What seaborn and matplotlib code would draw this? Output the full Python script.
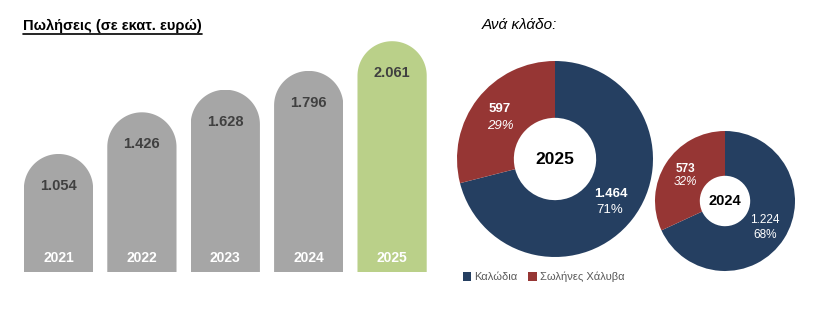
import numpy as np
import pandas as pd
import matplotlib
matplotlib.use("Agg")
import matplotlib.pyplot as plt
from matplotlib.path import Path
from matplotlib.patches import Patch
from matplotlib.lines import Line2D
import seaborn as sns

# ---------------- data ----------------
years = ["2021", "2022", "2023", "2024", "2025"]
sales = [1054, 1426, 1628, 1796, 2061]
sales_labels = ["1.054", "1.426", "1.628", "1.796", "2.061"]

segments = ["Καλώδια", "Σωλήνες Χάλυβα"]
seg_2025 = [1464, 597]
seg_2025_val = ["1.464", "597"]
seg_2025_pct = ["71%", "29%"]
seg_2024 = [1224, 573]
seg_2024_val = ["1.224", "573"]
seg_2024_pct = ["68%", "32%"]

# ---------------- style ----------------
sns.set_theme(style="white")
plt.rcParams["font.family"] = ["Liberation Sans", "DejaVu Sans"]

W, H = 822, 313
fig = plt.figure(figsize=(W / 100, H / 100), dpi=100)
fig.patch.set_facecolor("white")

GRAY = "#A6A6A6"
GREEN = "#BAD089"
BLUE = "#253F61"
RED = "#963634"

def px_axes(left, top, width, height):
    """axes from pixel box measured from top-left"""
    return fig.add_axes([left / W, 1 - (top + height) / H, width / W, height / H])

# ---------------- bar chart ----------------
units_per_px = 8.93
step = 83.4
ax_left = 58.5 - step / 2
ax_w = step * 5
bottom_px = 272
ax_h = 250
ax = px_axes(ax_left, bottom_px - ax_h, ax_w, ax_h)

df = pd.DataFrame({"year": years, "sales": sales})
palette = [GRAY, GRAY, GRAY, GRAY, GREEN]
sns.barplot(data=df, x="year", y="sales", hue="year", palette=palette,
            width=0.83, legend=False, ax=ax, saturation=1)
ax.set_xlim(-0.5, 4.5)
ax.set_ylim(0, ax_h * units_per_px)
ax.axis("off")

for p, lab, yr in zip(ax.patches, sales_labels, years):
    x0 = p.get_x()
    w = p.get_width()
    h = p.get_height()
    xc = x0 + w / 2
    r_px = w * step / 2
    r_data = r_px * units_per_px
    t = np.linspace(np.pi, 0, 80)
    arc = np.column_stack([xc + (w / 2) * np.cos(t), h - r_data + r_data * np.sin(t)])
    verts = np.vstack([[x0, 0], [x0, h - r_data], arc, [x0 + w, 0], [x0, 0]])
    codes = [Path.MOVETO] + [Path.LINETO] * (len(verts) - 2) + [Path.CLOSEPOLY]
    p.set_clip_path(Path(verts, codes), ax.transData)
    p.set_edgecolor("none")
    ax.text(xc, h - 32 * units_per_px, lab, ha="center", va="center",
            fontsize=10.5, fontweight="bold", color="#404040")
    ax.text(xc, 14 * units_per_px, yr, ha="center", va="center",
            fontsize=10, fontweight="bold", color="white")

# title with underline
title = fig.text(23 / W, 1 - 26 / H, "Πωλήσεις (σε εκατ. ευρώ)", ha="left", va="center",
                 fontsize=10.5, fontweight="bold", color="black")
fig.canvas.draw()
bb = title.get_window_extent()
uy = bb.y0 - 1
fig.add_artist(Line2D([bb.x0 / W, bb.x1 / W], [uy / H, uy / H],
                      transform=fig.transFigure, color="black", lw=1.2))

fig.text(482 / W, 1 - 25 / H, "Ανά κλάδο:", ha="left", va="center",
         fontsize=11, fontstyle="italic", color="black")

# ---------------- donuts ----------------
def donut(cx, cy, r, inner, vals, val_labels, pct_labels, year, yfs,
          pos_val, pos_pct, val_bold, pct_italic, lab_fs):
    a = px_axes(cx - r, cy - r, 2 * r, 2 * r)
    a.pie(vals, colors=[BLUE, RED], startangle=90, counterclock=False,
          wedgeprops=dict(width=1 - inner, edgecolor="none"))
    a.set_xlim(-1, 1)
    a.set_ylim(-1, 1)
    a.set_aspect("equal")
    a.axis("off")
    a.text(0, 0, year, ha="center", va="center", fontsize=yfs,
           fontweight="bold", color="black")
    for i in range(2):
        a.text(pos_val[i][0], pos_val[i][1], val_labels[i], ha="center", va="center",
               fontsize=lab_fs, fontweight="bold" if val_bold[i] else "normal",
               color="white")
        a.text(pos_pct[i][0], pos_pct[i][1], pct_labels[i], ha="center", va="center",
               fontsize=lab_fs, fontstyle="italic" if pct_italic[i] else "normal",
               color="white")
    return a

donut(555, 159, 98, 0.42, seg_2025, seg_2025_val, seg_2025_pct, "2025", 12.5,
      [(0.57, -0.36), (-0.56, 0.51)], [(0.56, -0.52), (-0.56, 0.34)],
      [True, True], [False, True], 9.5)
donut(725, 201, 70, 0.36, seg_2024, seg_2024_val, seg_2024_pct, "2024", 10.5,
      [(0.57, -0.27), (-0.57, 0.46)], [(0.58, -0.49), (-0.57, 0.27)],
      [False, True], [False, True], 8.5)

# legend
handles = [Patch(facecolor=BLUE, edgecolor="none"), Patch(facecolor=RED, edgecolor="none")]
fig.legend(handles, segments, loc="center left", bbox_to_anchor=(463 / W, 1 - 277 / H),
           ncol=2, frameon=False, handlelength=0.75, handleheight=0.9,
           handletextpad=0.25, columnspacing=1.0, fontsize=8, labelcolor="#595959",
           borderaxespad=0, borderpad=0)

fig.savefig("out.png", dpi=100, facecolor="white")
